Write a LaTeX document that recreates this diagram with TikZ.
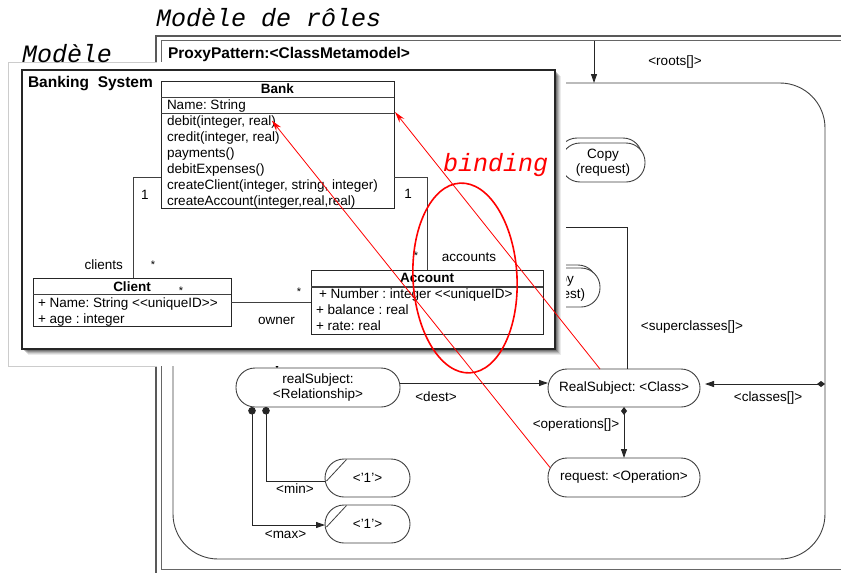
\documentclass[tikz,border=0pt]{standalone}
\usepackage{fontspec}
\setmainfont{Liberation Sans}
\newfontfamily\courfont{Liberation Mono}
\usetikzlibrary{arrows.meta,shapes.misc,calc}
\frenchspacing
\begin{document}
\begin{tikzpicture}[x=1pt,y=-1pt,
  every node/.style={inner sep=0pt, outer sep=0pt},
  sans/.style={font=\fontsize{13.5}{16}\selectfont},
  sansb/.style={font=\bfseries\fontsize{13.5}{16}\selectfont},
  lbl/.style={font=\fontsize{13.5}{16}\selectfont},
  mult/.style={font=\fontsize{11}{11}\selectfont, anchor=base},
  stad/.style={draw=black!75, line width=0.9pt, fill=white, rounded corners=19pt, minimum height=38pt, align=center, font=\fontsize{13.5}{15}\selectfont},
  clsbox/.style={draw=black!85, line width=0.9pt, fill=white, anchor=north west},
  conn/.style={draw=black!85, line width=0.9pt},
  assoc/.style={draw=black!75, line width=0.8pt},
  tri/.style={-{Triangle[length=9pt,width=6pt]}},
  redarr/.style={draw=red, line width=0.8pt, -{Stealth[length=11pt,width=6pt]}},
  itmono/.style={font=\courfont\itshape\fontsize{25}{25}\selectfont, anchor=base west},
]
\useasboundingbox (0,0) rectangle (841,573);
\fill[white] (0,0) rectangle (841,573);

% ---- role model frame
\draw[black!65, line width=1.4pt] (156,36) rectangle (870,590);
\draw[black!60, line width=0.7pt] (161,40.5) rectangle (870,569);
\draw[black!75, line width=0.9pt, rounded corners=45pt] (173,83) rectangle (825,559);
\node[anchor=base west, font=\bfseries\fontsize{15.5}{16}\selectfont] (pp) at (168,58) {ProxyPattern:<ClassMetamodel>};

\coordinate (rootA) at (594,40.5);
\coordinate (rootB) at (594,83);
\draw[conn,tri] (rootA) -- (rootB);
\node[lbl] (lroots) at (675,62) {<roots[]>};

% copy nodes (stacked)
\node[stad, minimum width=84pt, minimum height=39pt] (copyAback) at (600,157.5) {};
\node[stad, minimum width=84pt, minimum height=39pt] (copyA) at (603,162.5) {Copy\\(request)};
\node[stad, minimum width=84pt, minimum height=39pt] (copyBback) at (555,284.5) {};
\node[stad, minimum width=84pt, minimum height=39pt] (copyB) at (558,287.5) {Copy\\(request)};

% main role nodes
\node[stad, minimum width=152pt] (rs) at (624,388) {RealSubject: <Class>};
\node[stad, minimum width=152pt, minimum height=39pt] (req) at (624,477.5) {request: <Operation>};
\node[stad, minimum width=164pt, minimum height=39pt] (rel) at (318,387.5) {realSubject:\\<Relationship>};
\node[stad, minimum width=85pt] (one1) at (367.5,478) {<'1'>};
\node[stad, minimum width=85pt] (one2) at (367.5,524) {<'1'>};
\draw[black!75, line width=0.8pt] ($(one1.center)+(-41,3)$) -- ($(one1.center)+(-21,-18.5)$);
\draw[black!75, line width=0.8pt] ($(one2.center)+(-41,3)$) -- ($(one2.center)+(-21,-18.5)$);
\fill[black] (277,366.5) circle (1.3);

\coordinate (scA) at (540,227);
\draw[conn] (scA) -| ($(rs.north)+(3,0)$);
\node[lbl] (lsuper) at (692,327) {<superclasses[]>};

\draw[conn,tri] ($(rel.east)+(0,-4.5)$) -- ($(rs.west)+(0,-5)$);
\node[lbl] (ldest) at (436,397) {<dest>};

\draw[conn, {Diamond[length=8pt,width=6pt]}-{Triangle[length=9pt,width=6pt]}] (rs.south) -- (req.north);
\node[lbl] (lops) at (576,425) {<operations[]>};

\coordinate (clsA) at (825,384);
\draw[conn, shorten >=5pt, {Diamond[length=8pt,width=6pt]}-{Triangle[length=9pt,width=6pt]}] (clsA) -- (clsA -| rs.east);
\node[lbl] (lclasses) at (768,398) {<classes[]>};

\draw[conn, {Circle[length=7.5pt]}-] ($(rel.south)+(-52,0)$) |- ($(one1.west)+(0,3)$);
\node[lbl] (lmin) at (295,489) {<min>};
\draw[conn, {Circle[length=7.5pt]}-{Triangle[length=9pt,width=6pt]}] ($(rel.south)+(-66,0)$) |- ($(one2.west)+(0,1)$);
\node[lbl] (lmax) at (285.5,535) {<max>};

% ---- model (pasted picture)
\fill[white] (8,62) rectangle (566,366);
\draw[black!20, line width=0.8pt] (157,62) -- (8,62) -- (8,366) -- (157,366);
\foreach \d/\o in {6/0.08,5/0.1,4/0.14,3/0.18,2/0.22}
  \fill[black,opacity=\o] (22+\d,70+\d) rectangle (555+\d,349+\d);
\node[draw=black!85, line width=1.2pt, fill=white, minimum width=533pt, minimum height=279pt, anchor=north west] (bsys) at (22,70) {};
\node[anchor=base west, font=\bfseries\fontsize{15.5}{16}\selectfont] (bsysT) at (28,87) {Banking\ \ System};

% Bank
\node[clsbox, minimum width=233pt, minimum height=127pt] (bank) at (161,81) {};
\draw[assoc] ($(bank.north west)+(0,16)$) -- ($(bank.north east)+(0,16)$);
\draw[assoc] ($(bank.north west)+(0,32)$) -- ($(bank.north east)+(0,32)$);
\node[sansb, anchor=base] (bankT) at ($(bank.north)+(0,12)$) {Bank};
\node[sans, anchor=base west] (bankA) at ($(bank.north west)+(6,28)$) {Name: String};
\foreach \t [count=\i] in {{debit(integer, real)},{credit(integer, real)},{payments()},{debitExpenses()},{createClient(integer, string, integer)},{createAccount(integer,real,real)}}
  \node[sans, anchor=base west] (bop\i) at ($(bank.north west)+(6,28+16*\i)$) {\t};

% Client
\node[clsbox, minimum width=198pt, minimum height=48pt] (client) at (33,278) {};
\draw[assoc] ($(client.north west)+(0,16)$) -- ($(client.north east)+(0,16)$);
\node[sansb, anchor=base] (clientT) at ($(client.north)+(0,13)$) {Client};
\node[sans, anchor=base west] (clientA1) at ($(client.north west)+(5,29.3)$) {+ Name: String <\kern0pt<uniqueID>\kern0pt>};
\node[sans, anchor=base west] (clientA2) at ($(client.north west)+(5,45)$) {+ age : integer};

% Account
\node[clsbox, minimum width=232pt, minimum height=64pt] (account) at (311,270) {};
\draw[assoc, line width=1.1pt] ($(account.north west)+(0,17)$) -- ($(account.north east)+(0,17)$);
\node[sansb, anchor=base] (accT) at ($(account.north)+(0,12.7)$) {Account};
\node[sans, anchor=base west] (accA1) at ($(account.north west)+(8,28)$) {+ Number : integer <\kern0pt<uniqueID>};
\node[sans, anchor=base west] (accA2) at ($(account.north west)+(5,44)$) {+ balance : real};
\node[sans, anchor=base west] (accA3) at ($(account.north west)+(5,60)$) {+ rate: real};

% associations
\coordinate (bcCorner) at (133,177);
\draw[assoc] (bank.west |- bcCorner) -- (bcCorner) -- (bcCorner |- client.north);
\coordinate (baCorner) at (427,177);
\draw[assoc] (bank.east |- baCorner) -- (baCorner) -- (baCorner |- account.north);
\draw[assoc] (client.east) -- (account.west);

\node[sans, anchor=base] (m1) at (145,199) {1};
\node[sans, anchor=base east] (clientsL) at (123,269.3) {clients};
\node[mult] (m2) at (153,268.4) {*};
\node[mult] (m3) at (181,294.4) {*};
\node[mult] (m4) at (299,295.4) {*};
\node[sans, anchor=base] (ownerL) at (276.5,324) {owner};
\node[sans, anchor=base] (m5) at (408,198) {1};
\node[mult] (m6) at (416,259.4) {*};
\node[sans, anchor=base] (accountsL) at (469,261) {accounts};

% ---- binding overlay
\draw[red, line width=1.6pt, rotate around={3:(465,278)}] (465,278) ellipse [x radius=52, y radius=95];
\draw[redarr] ($(rs.north)+(-24,0)$) -- ($(bank.north east)+(1,31)$);
\draw[redarr] ($(req.west)+(2,-10)$) -- ($(bop1.east)+(-4,-1)$);
\node[itmono, text=red] (tBind) at (443,171) {binding};

% ---- titles
\node[itmono] (tMR) at (156,26.7) {Modèle de rôles};
\node[itmono] (tM) at (22,62) {Modèle};
\end{tikzpicture}
\end{document}
